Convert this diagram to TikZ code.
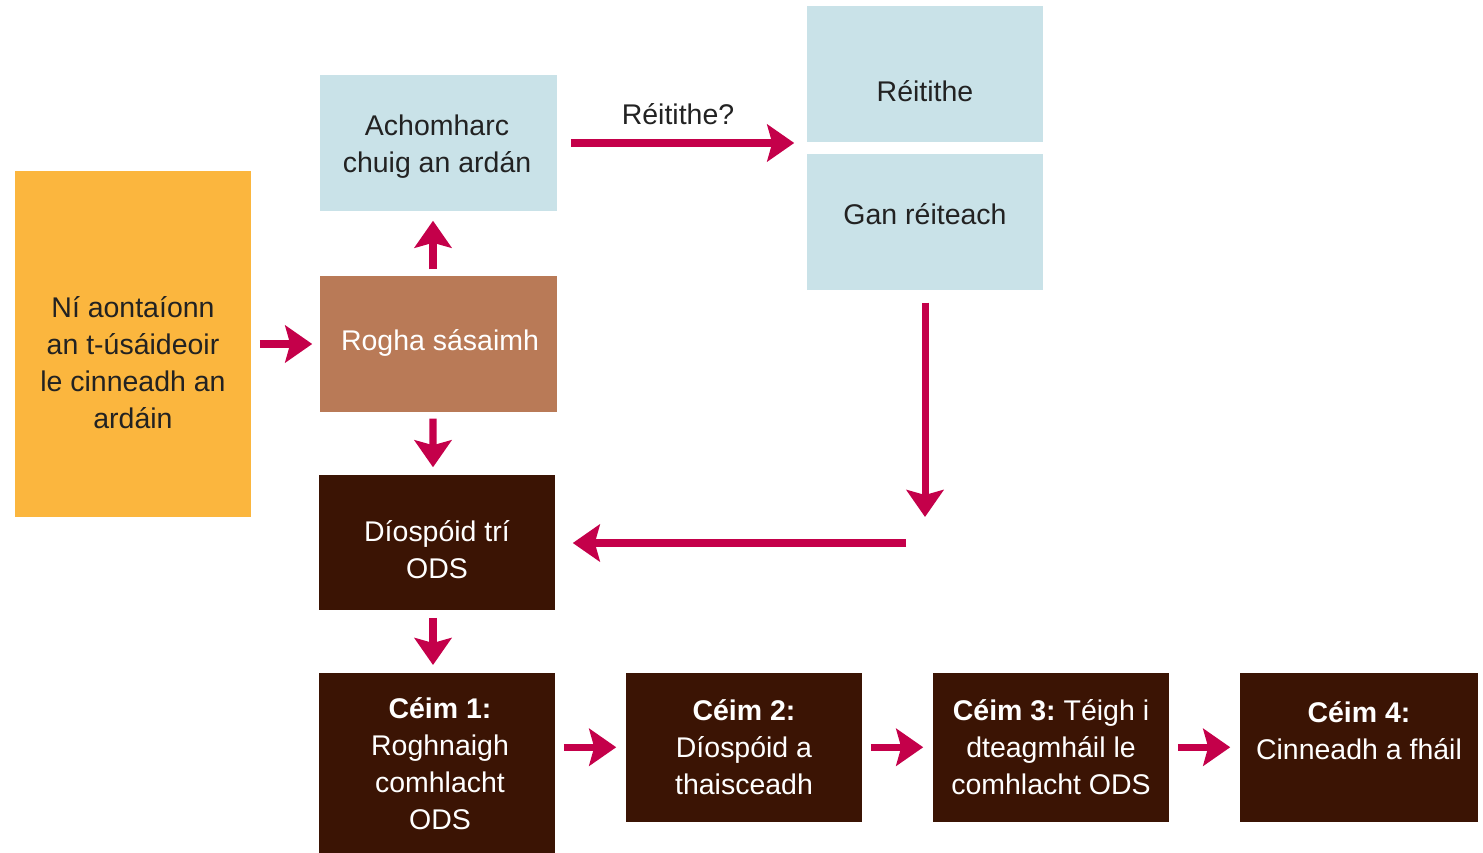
\documentclass[tikz,border=0pt]{standalone}
\usepackage{fontspec}
\setmainfont{Liberation Sans}
\definecolor{ODScolor}{HTML}{3B1404}
\definecolor{ARDcolor}{HTML}{C9E2E8}
\definecolor{USEcolor}{HTML}{FBB63E}
\definecolor{RSScolor}{HTML}{B97A57}
\definecolor{ARRcolor}{HTML}{C4004A}
\definecolor{TXTcolor}{HTML}{222222}
\usetikzlibrary{%
    calc,
    arrows.meta
}

\begin{document}
\begin{tikzpicture}[x=0.01cm, y=-0.01cm,
    box/.style={inner sep=0pt, minimum width=2.37cm, minimum height=1.36cm},
    txt/.style={align=center, inner sep=0pt, font=\fontsize{8.1}{10.5}\selectfont, text=TXTcolor},
    wtxt/.style={txt, text=white},
    arr/.style={ARRcolor, line width=2pt, -{Stealth[length=0.27cm, width=0.37cm, inset=0.05cm]}}]
    \useasboundingbox (0, 0) rectangle (1483, 852);

    % 方框
    \node (easaontas) [box, fill=USEcolor, minimum width=2.36cm, minimum height=3.46cm] at (133, 344) {};
    \node (achomharc) [box, fill=ARDcolor] at (438.5, 143) {};
    \node (reitithe) [box, fill=ARDcolor, minimum width=2.36cm] at (925, 74) {};
    \node (ganreiteach) [box, fill=ARDcolor, minimum width=2.36cm] at (925, 222) {};
    \node (rogha) [box, fill=RSScolor] at (438.5, 344) {};
    \node (diospoid) [box, fill=ODScolor, minimum width=2.36cm, minimum height=1.35cm] at (437, 542.5) {};
    \node (ceimA) [box, fill=ODScolor, minimum width=2.36cm, minimum height=1.9cm, anchor=north] at (437, 672) {};
    \node (ceimB) [box, fill=ODScolor, minimum width=2.36cm, minimum height=1.49cm, anchor=north] at (744, 672) {};
    \node (ceimC) [box, fill=ODScolor, minimum width=2.36cm, minimum height=1.49cm, anchor=north] at (1051, 672) {};
    \node (ceimD) [box, fill=ODScolor, minimum width=2.38cm, minimum height=1.49cm, anchor=north] at (1359, 672) {};

    % 文字
    \node (easaontasT) [txt] at (133, 363) {Ní aontaíonn\\an t-úsáideoir\\le cinneadh an\\ardáin};
    \node (achomharcT) [txt] at (437, 147) {Achomharc\\chuig an ardán};
    \node (reitritheT) [txt] at (925, 91) {Réitithe};
    \node (ganreiteachT) [txt] at (925, 214) {Gan réiteach};
    \node (roghaT) [wtxt] at (440, 343) {Rogha sásaimh};
    \node (diospoidT) [wtxt] at (437, 550) {Díospóid trí\\ODS};
    \node (ceimAT) [wtxt, anchor=north] at (440, 697) {\textbf{Céim 1:}\\Roghnaigh\\comhlacht\\ODS};
    \node (ceimBT) [wtxt, anchor=north] at (744, 699) {\textbf{Céim 2:}\\Díospóid a\\thaisceadh};
    \node (ceimCT) [wtxt, anchor=north] at (1051, 699) {\textbf{Céim 3:}~Téigh i\\dteagmháil le\\comhlacht ODS};
    \node (ceimDT) [wtxt, anchor=north] at (1359, 701) {\textbf{Céim 4:}\\Cinneadh a fháil};

    % 箭头
    \draw [arr, shorten <=0.08cm, shorten >=0.07cm] (easaontas.east) -- (rogha.west);
    \draw [arr, shorten <=0.06cm, shorten >=0.09cm] ([xshift=-0.055cm] rogha.north) -- ([xshift=-0.055cm] achomharc.south);
    \draw [arr, shorten <=0.06cm, shorten >=0.07cm] ([xshift=-0.055cm] rogha.south) -- ([xshift=-0.04cm] diospoid.north);
    \draw [arr, shorten <=0.13cm, shorten >=0.12cm] (achomharc.east) -- (achomharc.east -| reitithe.west)
    node (ceist) [txt, midway, yshift=0.29cm, xshift=-0.04cm] {Réitithe?};

    \coordinate (casadh) at (925, 543);
    \draw [arr, shorten <=0.12cm] (ganreiteach.south) -- ([yshift=0.26cm] casadh);
    \draw [arr, shorten >=0.17cm] ([xshift=-0.19cm] casadh) -- (casadh -| diospoid.east);

    \draw [arr, shorten <=0.07cm, shorten >=0.07cm] ([xshift=-0.04cm] diospoid.south) -- ([xshift=-0.04cm] ceimA.north);
    \foreach \a/\b in {ceimA/ceimB, ceimB/ceimC, ceimC/ceimD} {%
            \draw [arr, shorten <=0.08cm, shorten >=0.09cm] (\a.east |- \b.west) -- (\b.west);
        }
\end{tikzpicture}
\end{document}
